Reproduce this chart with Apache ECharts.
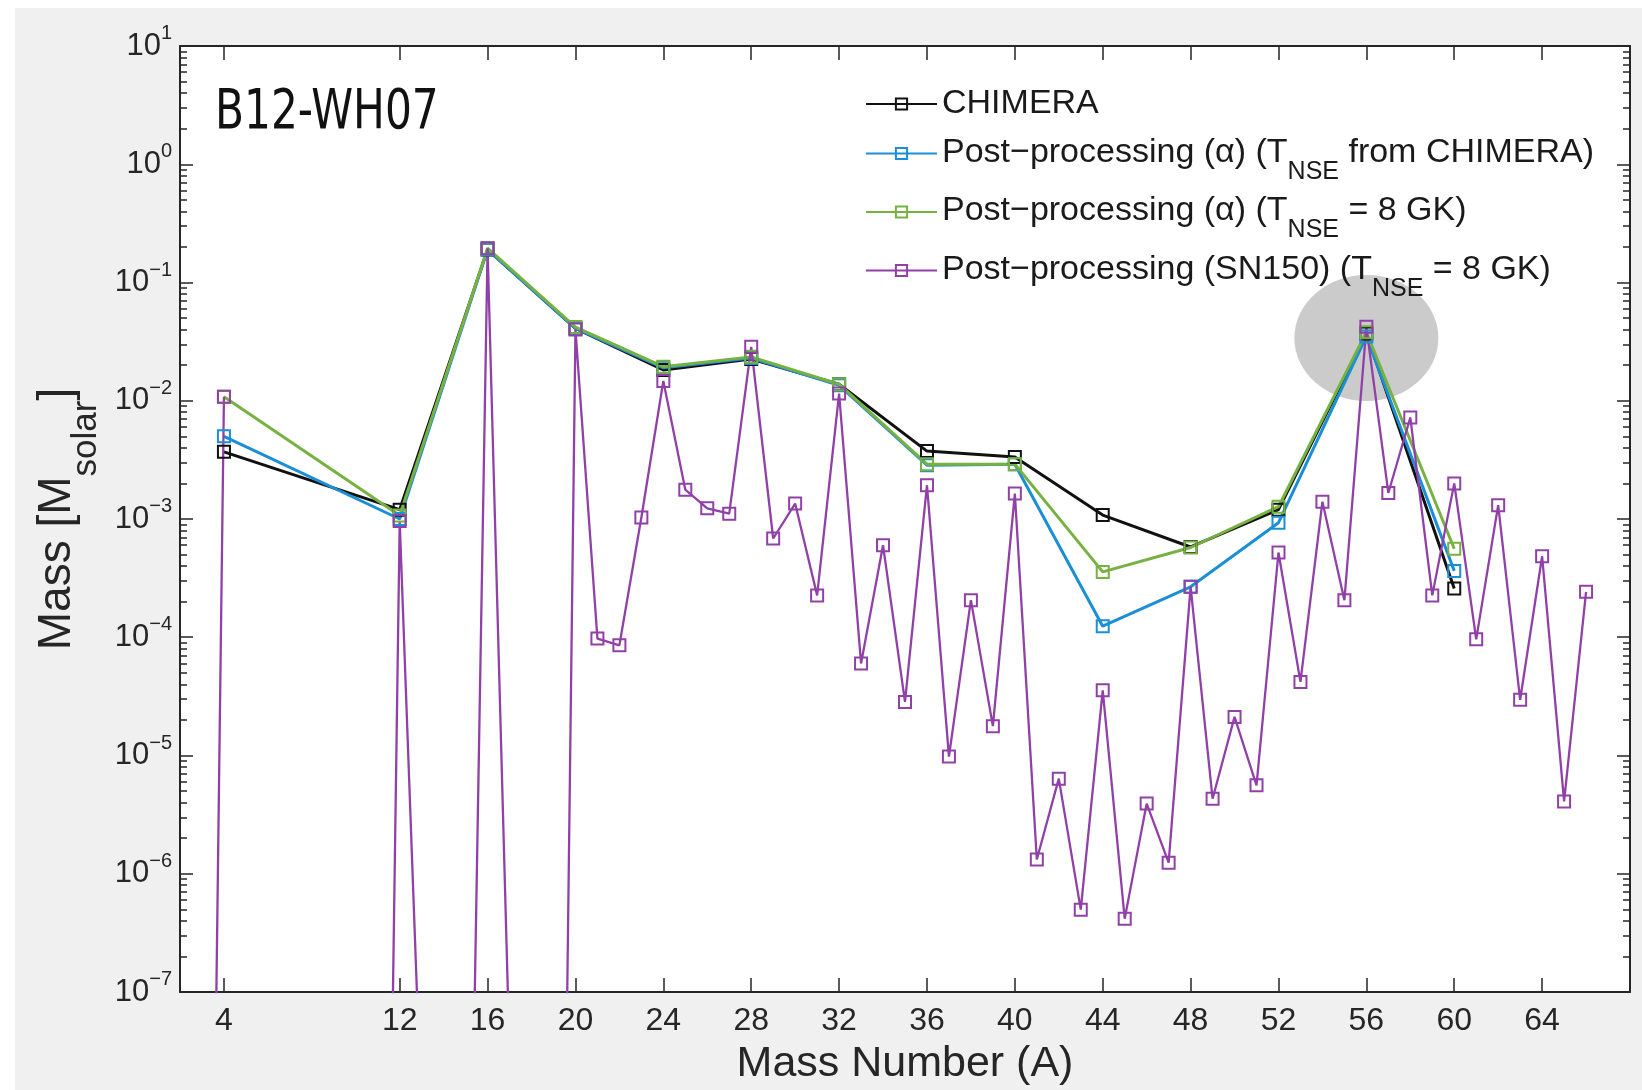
<!DOCTYPE html>
<html>
<head>
<meta charset="utf-8">
<script src="https://cdn.jsdelivr.net/npm/echarts@6/dist/echarts.min.js"></script>
<style>
  html, body { margin: 0; padding: 0; background: #ffffff; }
  #chart { position: absolute; left: 15px; top: 8px; width: 1627px; height: 1082px; }
</style>
</head>
<body>
<div id="chart"></div>
<script>
// Alpha-chain nuclei carried by the CHIMERA network and the alpha post-processing runs
const alphaMassNumbers = [4, 12, 16, 20, 24, 28, 32, 36, 40, 44, 48, 52, 56, 60];

// Ejected mass per mass number [M_solar]
const chimeraMass      = [3.7e-3, 1.2e-3, 0.19,  0.041, 0.0182, 0.0225, 0.0138, 3.75e-3, 3.35e-3, 1.08e-3, 5.8e-4,  1.2e-3,  0.037, 2.58e-4];
const ppAlphaChimeraT  = [5.0e-3, 1.0e-3, 0.19,  0.041, 0.019,  0.023,  0.0135, 2.85e-3, 2.9e-3,  1.24e-4, 2.67e-4, 9.3e-4,  0.035, 3.64e-4];
const ppAlpha8GK       = [1.08e-2, 1.07e-3, 0.195, 0.042, 0.0194, 0.0235, 0.0138, 2.91e-3, 2.91e-3, 3.57e-4, 5.74e-4, 1.27e-3, 0.038, 5.6e-4];

// SN150 post-processing: every mass number; null = no abundance (nothing drawn on a log axis)
const sn150MassNumbers = [3, 4, 5, 6, 7, 8, 9, 10, 11, 12, 13, 14, 15, 16, 17, 18, 19, 20,
  21, 22, 23, 24, 25, 26, 27, 28, 29, 30, 31, 32, 33, 34, 35, 36, 37, 38, 39, 40,
  41, 42, 43, 44, 45, 46, 47, 48, 49, 50, 51, 52, 53, 54, 55, 56, 57, 58, 59, 60,
  61, 62, 63, 64, 65, 66];
const sn150Mass = [2.5e-17, 1.08e-2, null, null, null, null, null, null, 1e-16, 9.6e-4,
  8e-9, null, 3e-12, 0.195, 3e-8, null, 4e-17, 0.040,
  9.75e-5, 8.55e-5, 1.03e-3, 1.47e-2, 1.77e-3, 1.23e-3, 1.11e-3, 2.86e-2, 6.84e-4, 1.35e-3,
  2.26e-4, 1.15e-2, 6.0e-5, 6.0e-4, 2.84e-5, 1.93e-3, 9.8e-6, 2.06e-4, 1.77e-5, 1.64e-3,
  1.32e-6, 6.37e-6, 4.97e-7, 3.56e-5, 4.17e-7, 3.92e-6, 1.24e-6, 2.67e-4, 4.31e-6, 2.12e-5,
  5.6e-6, 5.21e-4, 4.19e-5, 1.40e-3, 2.06e-4, 4.22e-2, 1.66e-3, 7.22e-3, 2.26e-4, 2.0e-3,
  9.6e-5, 1.31e-3, 2.96e-5, 4.84e-4, 4.09e-6, 2.42e-4];

// Axis ticks
const xTickValues = [4, 12, 16, 20, 24, 28, 32, 36, 40, 44, 48, 52, 56, 60, 64];
const xRange = [2, 68];
const yRange = [1e-7, 10];

// Highlighted peak (56Ni)
const highlightPoint = [56, 0.034];

const FONT = "'Liberation Sans', Arial, Helvetica, sans-serif";
const AXIS_COLOR = '#262626';
const TEXT_COLOR = '#262626';

const seriesDefs = [
  { name: 'CHIMERA', xs: alphaMassNumbers, ys: chimeraMass, color: '#111111', width: 3,
    label: '{c|CHIMERA}' },
  { name: 'Post-processing (alpha) (T_NSE from CHIMERA)', xs: alphaMassNumbers, ys: ppAlphaChimeraT, color: '#1a8fd6', width: 3,
    label: '{n|Post\u2212processing (\u03b1) (T}{s|NSE}{n| from CHIMERA)}' },
  { name: 'Post-processing (alpha) (T_NSE = 8 GK)', xs: alphaMassNumbers, ys: ppAlpha8GK, color: '#77b142', width: 3,
    label: '{n|Post\u2212processing (\u03b1) (T}{s|NSE}{n| = 8 GK)}' },
  { name: 'Post-processing (SN150) (T_NSE = 8 GK)', xs: sn150MassNumbers, ys: sn150Mass, color: '#9140a8', width: 2.3,
    label: '{n|Post\u2212processing (SN150) (T}{s|NSE}{n| = 8 GK)}' }
];

const legendLabels = {};
seriesDefs.forEach(d => { legendLabels[d.name] = d.label; });

const series = seriesDefs.map(d => ({
  name: d.name,
  type: 'line',
  xAxisIndex: 0,
  yAxisIndex: 0,
  data: d.xs.map((x, i) => [x, d.ys[i] == null ? '-' : d.ys[i]]),
  connectNulls: false,
  clip: true,
  symbol: 'rect',
  symbolSize: 12,
  showSymbol: true,
  showAllSymbol: true,
  color: d.color,
  lineStyle: { color: d.color, width: d.width },
  itemStyle: { color: 'rgba(255,255,255,0)', borderColor: d.color, borderWidth: 2 },
  emphasis: { disabled: true },
  animation: false
}));

// Minor log ticks (2..9 per decade), expressed as exponents for the overlay axes
const minorTickExponents = [];
for (let e = Math.log10(yRange[0]); e < Math.log10(yRange[1]); e++) {
  for (let k = 2; k <= 9; k++) minorTickExponents.push(e + Math.log10(k));
}

const tickLine = { color: AXIS_COLOR, width: 1.5 };
const axisLine = { show: true, onZero: false, lineStyle: { color: AXIS_COLOR, width: 2 } };

function powerLabel(v) {
  const e = Math.round(Math.log10(v));
  return '{b|10}{e|' + (e < 0 ? '\u2212' + (-e) : String(e)) + '}';
}

const option = {
  backgroundColor: '#f0f0f0',
  animation: false,
  grid: {
    left: 165, top: 38, right: 12, bottom: 98,
    show: true, backgroundColor: '#ffffff', borderWidth: 0,
    containLabel: false, outerBoundsMode: 'none'
  },
  legend: {
    orient: 'vertical',
    left: 850,
    top: 74,
    padding: 0,
    itemGap: 9.5,
    itemWidth: 71,
    itemHeight: 14,
    selectedMode: false,
    data: seriesDefs.map(d => d.name),
    formatter: name => legendLabels[name],
    textStyle: {
      fontFamily: FONT, fontSize: 34, color: '#1a1a1a',
      rich: {
        c: { fontFamily: FONT, fontSize: 34, lineHeight: 36, color: '#1a1a1a', padding: [5, 0, 5, 0] },
        n: { fontFamily: FONT, fontSize: 34, lineHeight: 36, color: '#1a1a1a', verticalAlign: 'top' },
        s: { fontFamily: FONT, fontSize: 25, lineHeight: 25, color: '#1a1a1a', verticalAlign: 'top', padding: [24, 0, 0, 0] }
      }
    }
  },
  graphic: [{
    type: 'text',
    id: 'modelTitle',
    x: 200,
    y: 77,
    scaleX: 0.84,
    silent: true,
    style: {
      text: 'B12-WH07',
      fontFamily: "'DejaVu Sans Condensed', 'DejaVu Sans', sans-serif",
      fontSize: 56,
      fill: '#111111',
      verticalAlign: 'top'
    },
    z: 5
  }],
  xAxis: [
    {
      type: 'value', min: xRange[0], max: xRange[1], position: 'bottom',
      axisLine: axisLine,
      axisTick: { show: true, inside: true, length: 14, customValues: xTickValues, lineStyle: tickLine },
      axisLabel: { customValues: xTickValues, margin: 13, fontFamily: FONT, fontSize: 32, color: TEXT_COLOR },
      splitLine: { show: false },
      name: 'Mass Number (A)',
      nameLocation: 'middle',
      nameGap: 51,
      nameTextStyle: { fontFamily: FONT, fontSize: 43, color: TEXT_COLOR }
    },
    {
      type: 'value', min: xRange[0], max: xRange[1], position: 'top',
      axisLine: axisLine,
      axisTick: { show: true, inside: true, length: 14, customValues: xTickValues, lineStyle: tickLine },
      axisLabel: { show: false },
      splitLine: { show: false }
    }
  ],
  yAxis: [
    {
      type: 'log', logBase: 10, min: yRange[0], max: yRange[1], position: 'left', splitNumber: 8,
      axisLine: axisLine,
      axisTick: { show: true, inside: true, length: 13, lineStyle: tickLine },
      axisLabel: {
        margin: 8,
        formatter: powerLabel,
        rich: {
          b: { fontFamily: FONT, fontSize: 31, lineHeight: 31, color: TEXT_COLOR, verticalAlign: 'bottom' },
          e: { fontFamily: FONT, fontSize: 20, lineHeight: 20, color: TEXT_COLOR, verticalAlign: 'bottom', padding: [0, 0, 18, 0] }
        }
      },
      splitLine: { show: false },
      minorTick: { show: false },
      name: '{n|Mass [M}{s|solar}{n|]}',
      nameLocation: 'middle',
      nameRotate: 90,
      nameGap: 80,
      nameTextStyle: {
        fontFamily: FONT, fontSize: 46, color: TEXT_COLOR,
        rich: {
          n: { fontFamily: FONT, fontSize: 46, lineHeight: 50, color: TEXT_COLOR, verticalAlign: 'top' },
          s: { fontFamily: FONT, fontSize: 35, lineHeight: 35, color: TEXT_COLOR, verticalAlign: 'top', padding: [35, 0, 0, 0] }
        }
      }
    },
    {
      type: 'value', min: Math.log10(yRange[0]), max: Math.log10(yRange[1]), position: 'left',
      axisLine: { show: false, onZero: false },
      axisTick: { show: true, inside: true, length: 7, customValues: minorTickExponents, lineStyle: tickLine },
      axisLabel: { show: false },
      splitLine: { show: false }
    },
    {
      type: 'log', logBase: 10, min: yRange[0], max: yRange[1], position: 'right', splitNumber: 8,
      axisLine: axisLine,
      axisTick: { show: true, inside: true, length: 13, lineStyle: tickLine },
      axisLabel: { show: false },
      splitLine: { show: false }
    },
    {
      type: 'value', min: Math.log10(yRange[0]), max: Math.log10(yRange[1]), position: 'right',
      axisLine: { show: false, onZero: false },
      axisTick: { show: true, inside: true, length: 7, customValues: minorTickExponents, lineStyle: tickLine },
      axisLabel: { show: false },
      splitLine: { show: false }
    }
  ],
  series: series
};

const chart = echarts.init(document.getElementById('chart'), null, { renderer: 'canvas' });
chart.setOption(option);

// Grey highlight behind the iron-peak maximum
const c = chart.convertToPixel({ xAxisIndex: 0, yAxisIndex: 0 }, highlightPoint);
chart.setOption({
  graphic: [{
    type: 'ellipse',
    id: 'peakHighlight',
    z: 1,
    silent: true,
    shape: { cx: c[0], cy: c[1], rx: 72, ry: 63 },
    style: { fill: '#cbcbcb' }
  }]
});
</script>
</body>
</html>
